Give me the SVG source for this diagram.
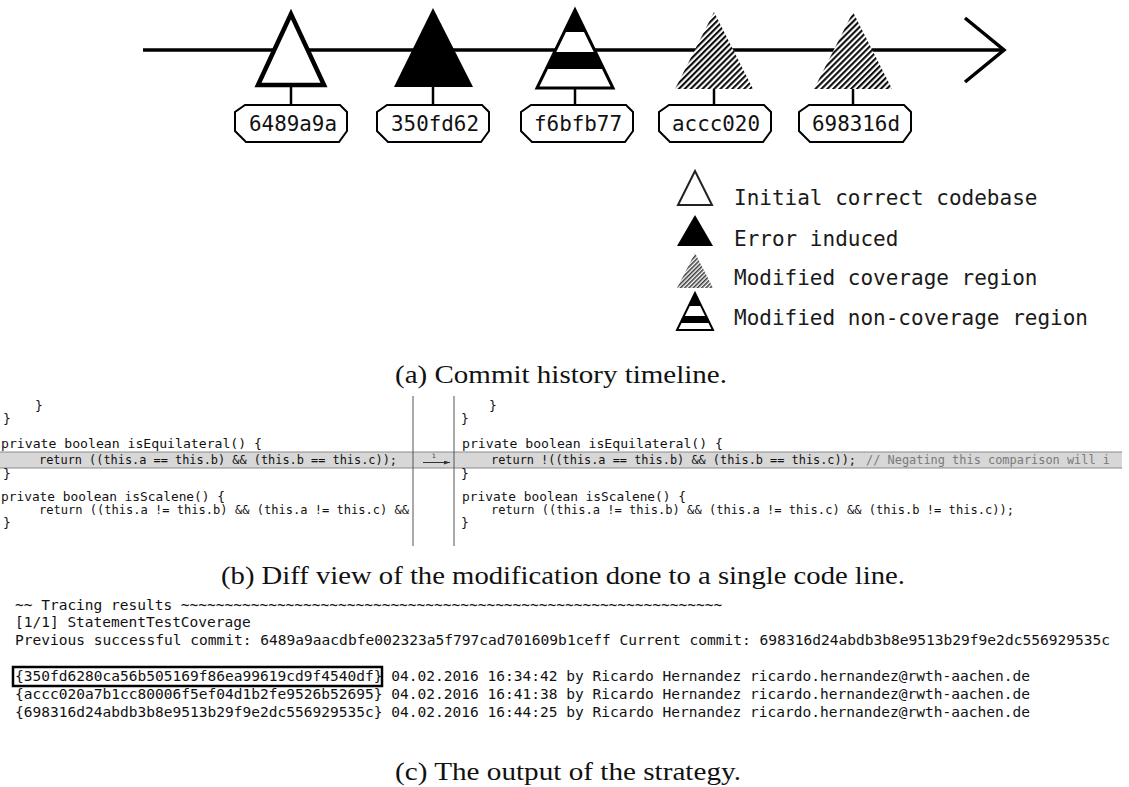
<svg xmlns="http://www.w3.org/2000/svg" width="1129" height="787" viewBox="0 0 1129 787">
  <style>
    .tag { fill: #fff; stroke: #000; stroke-width: 2; }
    .tagtxt { font-family: "DejaVu Sans Mono", "Liberation Mono", monospace; font-size: 22px; fill: #111; text-anchor: middle; }
    .legtxt { font-family: "DejaVu Sans Mono", "Liberation Mono", monospace; font-size: 21px; fill: #1a1a1a; }
    .cap { font-family: "Liberation Serif", "DejaVu Serif", serif; font-size: 26px; fill: #111; text-anchor: middle; }
    .code { font-family: "DejaVu Sans Mono", "Liberation Mono", monospace; font-size: 13px; fill: #111; }
    .cmt { fill: #7a7a7a; font-size: 12.5px; }
    .out { font-family: "DejaVu Sans Mono", "Liberation Mono", monospace; font-size: 14.5px; fill: #111; }
    .stem { stroke: #000; stroke-width: 2.5; }
  </style>
  <defs>
    <pattern id="hatch" patternUnits="userSpaceOnUse" width="4.2" height="4.2" patternTransform="rotate(45)">
      <rect width="4.2" height="4.2" fill="#fff"/>
      <line x1="1.1" y1="0" x2="1.1" y2="4.2" stroke="#000" stroke-width="2"/>
    </pattern>
    <pattern id="hatchSmall" patternUnits="userSpaceOnUse" width="3" height="3" patternTransform="rotate(45)">
      <rect width="3" height="3" fill="#fff"/>
      <line x1="0.8" y1="0" x2="0.8" y2="3" stroke="#333" stroke-width="1.5"/>
    </pattern>
    <path id="tagShape" d="M-46,0 H49 L56,7 V26 L48,37 H-45 L-56,26 V7 Z"/>
    <clipPath id="stripeClip"><polygon points="575,10 537,88 613,88"/></clipPath>
    <clipPath id="legStripeClip"><polygon points="695,293 677,330 713,330"/></clipPath>
    <clipPath id="leftPane"><rect x="0" y="395" width="411" height="152"/></clipPath>
    <marker id="diffArrow" viewBox="0 0 6 4" refX="6" refY="2" markerWidth="6" markerHeight="4" markerUnits="userSpaceOnUse" orient="auto">
      <path d="M0,0 L6,2 L0,4 Z" fill="#333"/>
    </marker>
  </defs>

  <!-- connectors: time axis with open arrowhead, stems down to the hash tags -->
  <g id="connectors" fill="none" stroke="#000">
    <line x1="143" y1="50" x2="1002" y2="50" stroke-width="3.5"/>
    <polyline points="965,18 1004,50 965,82" stroke-width="3.5" stroke-linejoin="miter"/>
    <line class="stem" x1="291" y1="86" x2="291" y2="105"/>
    <line class="stem" x1="433" y1="86" x2="433" y2="105"/>
    <line class="stem" x1="575" y1="86" x2="575" y2="105"/>
    <line class="stem" x1="714" y1="88" x2="714" y2="105"/>
    <line class="stem" x1="853" y1="88" x2="853" y2="105"/>
  </g>

  <!-- commits on the timeline -->
  <g id="commit-6489a9a">
    <polygon points="291,14 258,85 324,85" fill="#fff" stroke="#000" stroke-width="4.5"/>
    <use href="#tagShape" class="tag" transform="translate(291,105)"/>
    <text class="tagtxt" x="293" y="131" textLength="88" lengthAdjust="spacingAndGlyphs">6489a9a</text>
  </g>
  <g id="commit-350fd62">
    <polygon points="433,8 394,87 473,87" fill="#000"/>
    <use href="#tagShape" class="tag" transform="translate(433,105)"/>
    <text class="tagtxt" x="435" y="131" textLength="88" lengthAdjust="spacingAndGlyphs">350fd62</text>
  </g>
  <g id="commit-f6bfb77">
    <polygon points="575,10 537,88 613,88" fill="#fff"/>
    <g clip-path="url(#stripeClip)" fill="#000">
      <rect x="530" y="5" width="90" height="27"/>
      <rect x="530" y="52" width="90" height="17"/>
    </g>
    <polygon points="575,10 537,88 613,88" fill="none" stroke="#000" stroke-width="3"/>
    <use href="#tagShape" class="tag" transform="translate(577,105)"/>
    <text class="tagtxt" x="578" y="131" textLength="88" lengthAdjust="spacingAndGlyphs">f6bfb77</text>
  </g>
  <g id="commit-accc020">
    <polygon points="714,12 675,89 753,89" fill="url(#hatch)"/>
    <use href="#tagShape" class="tag" transform="translate(715,105)"/>
    <text class="tagtxt" x="716" y="131" textLength="88" lengthAdjust="spacingAndGlyphs">accc020</text>
  </g>
  <g id="commit-698316d">
    <polygon points="853,12 814,89 892,89" fill="url(#hatch)"/>
    <use href="#tagShape" class="tag" transform="translate(855,105)"/>
    <text class="tagtxt" x="856" y="131" textLength="88" lengthAdjust="spacingAndGlyphs">698316d</text>
  </g>

  <!-- legend -->
  <g id="legend">
    <polygon points="695,171 678,205 712,205" fill="#fff" stroke="#222" stroke-width="2"/>
    <text class="legtxt" x="734" y="205">Initial correct codebase</text>
    <polygon points="695,215 677,246 713,246" fill="#000"/>
    <text class="legtxt" x="734" y="246">Error induced</text>
    <polygon points="695,253 677,288 713,288" fill="url(#hatchSmall)"/>
    <text class="legtxt" x="734" y="285">Modified coverage region</text>
    <polygon points="695,293 677,330 713,330" fill="#fff"/>
    <g clip-path="url(#legStripeClip)" fill="#000">
      <rect x="670" y="290" width="50" height="16"/>
      <rect x="670" y="316" width="50" height="7"/>
    </g>
    <polygon points="695,293 677,330 713,330" fill="none" stroke="#000" stroke-width="2"/>
    <text class="legtxt" x="734" y="325">Modified non-coverage region</text>
  </g>

  <text id="caption-a" class="cap" x="561" y="383" textLength="332" lengthAdjust="spacingAndGlyphs">(a) Commit history timeline.</text>

  <!-- side-by-side diff -->
  <g id="diff">
    <rect x="0" y="452" width="1122" height="16" fill="#d7d7d7"/>
    <line x1="0" y1="452" x2="1122" y2="452" stroke="#8a8a8a" stroke-width="1"/>
    <line x1="0" y1="468" x2="1122" y2="468" stroke="#8a8a8a" stroke-width="1"/>
    <line x1="413" y1="396" x2="413" y2="546" stroke="#555" stroke-width="1"/>
    <line x1="454" y1="396" x2="454" y2="546" stroke="#555" stroke-width="1"/>
    <line x1="423" y1="462.5" x2="450" y2="462.5" stroke="#333" stroke-width="1" marker-end="url(#diffArrow)"/>
    <text x="432" y="458" font-family="DejaVu Sans" font-size="6" fill="#333">1</text>

    <g id="diff-left" class="code" clip-path="url(#leftPane)">
      <text x="35" y="410">}</text>
      <text x="3" y="423">}</text>
      <text x="1" y="448" textLength="261" lengthAdjust="spacingAndGlyphs">private boolean isEquilateral() {</text>
      <text x="39" y="464" textLength="358" lengthAdjust="spacingAndGlyphs">return ((this.a == this.b) &amp;&amp; (this.b == this.c));</text>
      <text x="3" y="478">}</text>
      <text x="1" y="501" textLength="224" lengthAdjust="spacingAndGlyphs">private boolean isScalene() {</text>
      <text x="39" y="514" textLength="370" lengthAdjust="spacingAndGlyphs">return ((this.a != this.b) &amp;&amp; (this.a != this.c) &amp;&amp;</text>
      <text x="3" y="527">}</text>
    </g>
    <g id="diff-right" class="code">
      <text x="489" y="410">}</text>
      <text x="461" y="423">}</text>
      <text x="462" y="448" textLength="261" lengthAdjust="spacingAndGlyphs">private boolean isEquilateral() {</text>
      <text x="491" y="464" textLength="365" lengthAdjust="spacingAndGlyphs">return !((this.a == this.b) &amp;&amp; (this.b == this.c));</text>
      <text class="cmt" x="866" y="464" textLength="244" lengthAdjust="spacingAndGlyphs">// Negating this comparison will i</text>
      <text x="461" y="478">}</text>
      <text x="462" y="501" textLength="224" lengthAdjust="spacingAndGlyphs">private boolean isScalene() {</text>
      <text x="491" y="514" textLength="523" lengthAdjust="spacingAndGlyphs">return ((this.a != this.b) &amp;&amp; (this.a != this.c) &amp;&amp; (this.b != this.c));</text>
      <text x="461" y="527">}</text>
    </g>
  </g>

  <text id="caption-b" class="cap" x="563" y="584" textLength="684" lengthAdjust="spacingAndGlyphs">(b) Diff view of the modification done to a single code line.</text>

  <!-- console output of the tracing strategy -->
  <g id="output" class="out">
    <text x="15" y="610">~~ Tracing results ~~~~~~~~~~~~~~~~~~~~~~~~~~~~~~~~~~~~~~~~~~~~~~~~~~~~~~~~~~~~~~</text>
    <text x="15" y="627">[1/1] StatementTestCoverage</text>
    <text x="15" y="645" textLength="1095" lengthAdjust="spacingAndGlyphs">Previous successful commit: 6489a9aacdbfe002323a5f797cad701609b1ceff Current commit: 698316d24abdb3b8e9513b29f9e2dc556929535c</text>
    <rect x="13" y="667" width="369" height="19" fill="none" stroke="#000" stroke-width="2.5"/>
    <text x="15" y="681" textLength="1015" lengthAdjust="spacingAndGlyphs">{350fd6280ca56b505169f86ea99619cd9f4540df} 04.02.2016 16:34:42 by Ricardo Hernandez ricardo.hernandez@rwth-aachen.de</text>
    <text x="15" y="699" textLength="1015" lengthAdjust="spacingAndGlyphs">{accc020a7b1cc80006f5ef04d1b2fe9526b52695} 04.02.2016 16:41:38 by Ricardo Hernandez ricardo.hernandez@rwth-aachen.de</text>
    <text x="15" y="717" textLength="1015" lengthAdjust="spacingAndGlyphs">{698316d24abdb3b8e9513b29f9e2dc556929535c} 04.02.2016 16:44:25 by Ricardo Hernandez ricardo.hernandez@rwth-aachen.de</text>
  </g>

  <text id="caption-c" class="cap" x="568" y="780" textLength="346" lengthAdjust="spacingAndGlyphs">(c) The output of the strategy.</text>
</svg>
